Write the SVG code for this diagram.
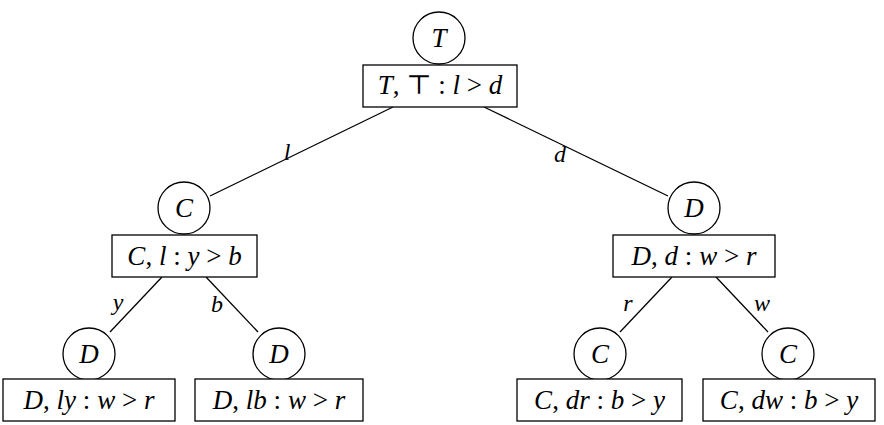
<svg xmlns="http://www.w3.org/2000/svg" width="884" height="425" viewBox="0 0 884 425">
<style>
.c{fill:#fff;stroke:#000;stroke-width:1.3}
.b{fill:#fff;stroke:#000;stroke-width:1.3}
.e{stroke:#000;stroke-width:1.3;fill:none}
text{font-family:"Liberation Serif","DejaVu Serif",serif;font-size:27px;text-anchor:middle;fill:#000}
.i{font-style:italic}
.lb{font-style:italic;font-size:24px}
</style>
<rect width="884" height="425" fill="#fff"/>
<g id="edges">
<line class="e" x1="393" y1="107" x2="210" y2="196"/>
<line class="e" x1="484" y1="107" x2="668" y2="196"/>
<line class="e" x1="162" y1="277" x2="110" y2="332"/>
<line class="e" x1="206" y1="277" x2="258" y2="332"/>
<line class="e" x1="672" y1="277" x2="620" y2="332"/>
<line class="e" x1="716" y1="277" x2="768" y2="332"/>
<text class="lb" x="287" y="160">l</text>
<text class="lb" x="560" y="162">d</text>
<text class="lb" x="118" y="310">y</text>
<text class="lb" x="217" y="312">b</text>
<text class="lb" x="628" y="311">r</text>
<text class="lb" x="762" y="311">w</text>
</g>
<g id="nT">
<circle class="c" cx="439" cy="38" r="26"/>
<text class="i" x="439" y="47">T</text>
<rect class="b" x="363" y="65" width="154" height="42"/>
<text x="440" y="94" xml:space="preserve"><tspan class="i">T</tspan>, ⊤ : <tspan class="i">l</tspan> &gt; <tspan class="i">d</tspan></text>
</g>
<g id="nC">
<circle class="c" cx="184" cy="208" r="26"/>
<text class="i" x="184" y="217">C</text>
<rect class="b" x="112" y="235" width="145" height="42"/>
<text x="184.5" y="265" xml:space="preserve"><tspan class="i">C</tspan>, <tspan class="i">l</tspan> : <tspan class="i">y</tspan> &gt; <tspan class="i">b</tspan></text>
</g>
<g id="nD">
<circle class="c" cx="694" cy="208" r="26"/>
<text class="i" x="694" y="217">D</text>
<rect class="b" x="613" y="235" width="162" height="42"/>
<text x="694" y="265" xml:space="preserve"><tspan class="i">D</tspan>, <tspan class="i">d</tspan> : <tspan class="i">w</tspan> &gt; <tspan class="i">r</tspan></text>
</g>
<g id="nDly">
<circle class="c" cx="89" cy="354" r="26"/>
<text class="i" x="89" y="363">D</text>
<rect class="b" x="3" y="379" width="172" height="42"/>
<text x="89" y="409" xml:space="preserve"><tspan class="i">D</tspan>, <tspan class="i">ly</tspan> : <tspan class="i">w</tspan> &gt; <tspan class="i">r</tspan></text>
</g>
<g id="nDlb">
<circle class="c" cx="279" cy="354" r="26"/>
<text class="i" x="279" y="363">D</text>
<rect class="b" x="195" y="379" width="168" height="42"/>
<text x="279" y="409" xml:space="preserve"><tspan class="i">D</tspan>, <tspan class="i">lb</tspan> : <tspan class="i">w</tspan> &gt; <tspan class="i">r</tspan></text>
</g>
<g id="nCdr">
<circle class="c" cx="600" cy="354" r="26"/>
<text class="i" x="600" y="363">C</text>
<rect class="b" x="517" y="379" width="165" height="42"/>
<text x="599.5" y="409" xml:space="preserve"><tspan class="i">C</tspan>, <tspan class="i">dr</tspan> : <tspan class="i">b</tspan> &gt; <tspan class="i">y</tspan></text>
</g>
<g id="nCdw">
<circle class="c" cx="788" cy="354" r="26"/>
<text class="i" x="788" y="363">C</text>
<rect class="b" x="703" y="379" width="172" height="42"/>
<text x="789" y="409" xml:space="preserve"><tspan class="i">C</tspan>, <tspan class="i">dw</tspan> : <tspan class="i">b</tspan> &gt; <tspan class="i">y</tspan></text>
</g>
</svg>
